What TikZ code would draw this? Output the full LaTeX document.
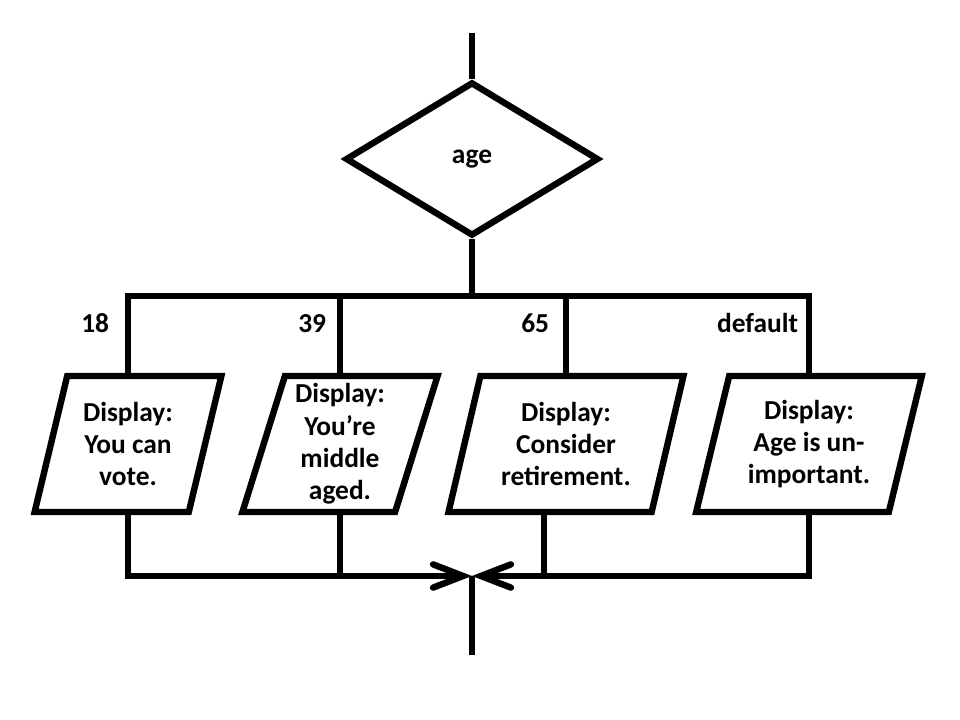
\documentclass[tikz,border=0pt]{standalone}
\usepackage{fontspec}
\setmainfont{Carlito}
\usetikzlibrary{arrows.meta, shapes.geometric, positioning}
\tikzstyle{fleche} = [-{Straight Barb[length=0.75cm,width=0.58cm,line cap=round]}]
\tikzstyle{affiche} = [draw, trapezium, trapezium left angle=74, trapezium right angle=106, trapezium stretches=true, minimum height=3.4cm, align=center, inner sep=0pt]
\tikzstyle{test} = [draw, diamond, minimum width=6.33cm, minimum height=3.85cm, inner sep=0pt]

\begin{document}
\begin{tikzpicture}[x=0.025cm, y=-0.025cm, line width=0.16cm, font=\bfseries\fontsize{19.5}{23}\selectfont]
	\useasboundingbox (0,0) rectangle (960,720);

	\node[test] (age) at (472,159) {age};

	\node[affiche, minimum width=4.7cm] (p1) at (128,444) {Display:\\You can\\vote.};
	\node[affiche, minimum width=4.88cm] (p2) at (340,444) {Display:\\You’re\\middle\\aged.};
	\node[affiche, minimum width=5.88cm] (p3) at (566,444) {Display:\\Consider\\retirement.};
	\node[affiche, minimum width=5.65cm] (p4) at (809,444) {Display:\\Age is un-\\important.};

	\node[anchor=base east] (l18) at (117,333) {18};
	\node[anchor=base east] (l39) at (334,333) {39};
	\node[anchor=base east] (l65) at (557,333) {65};
	\node[anchor=base east] (ldef) at (806,333) {default};

	\coordinate (in) at (472,33);
	\coordinate (bar) at (472,296);
	\coordinate (merge) at (472,576);
	\coordinate (out) at (472,655);
	\coordinate (j3) at (544,576);

	\draw (in) -- (age);
	\draw (age) -- (bar);
	\draw (p1.north) |- (bar) -| (p4.north);
	\draw (p2.north) -- (p2.north |- bar);
	\draw (p3.north) -- (p3.north |- bar);

	\draw[fleche] (p1.south) |- (merge);
	\draw[fleche] (p4.south) |- (merge);
	\draw (p2.south) -- (p2.south |- merge);
	\draw (j3 |- p3.south) -- (j3);
	\draw (merge) -- (out);

\end{tikzpicture}
\end{document}
